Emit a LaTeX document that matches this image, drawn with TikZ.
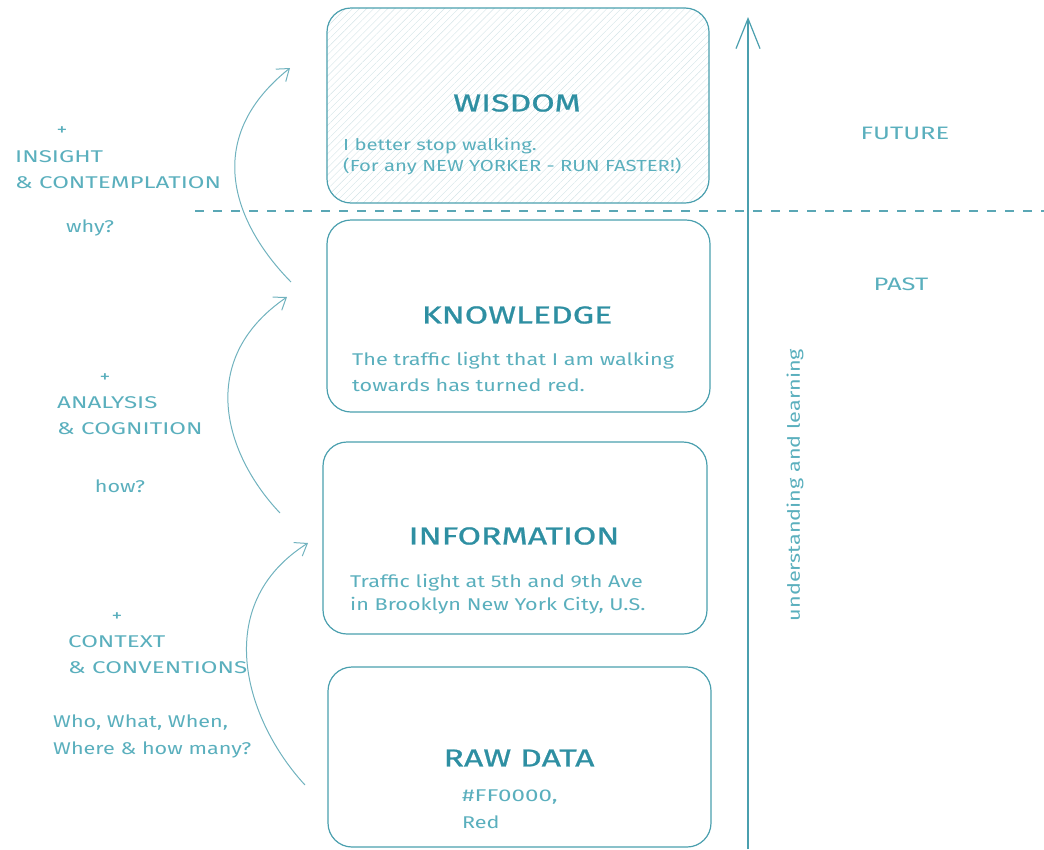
\documentclass[tikz,border=0pt]{standalone}
\usepackage{fontspec}
\setmainfont{Fira Sans}
\newfontfamily\handl[FakeStretch=1.27]{Fira Sans}
\newfontfamily\handc[FakeStretch=1.42]{Fira Sans}
\newfontfamily\handt[FakeStretch=1.38,FakeBold=1]{Fira Sans}
\usetikzlibrary{arrows.meta,patterns.meta}
\definecolor{boxc}{HTML}{4A9FAE}
\definecolor{titlec}{HTML}{2E8FA2}
\definecolor{txtc}{HTML}{5AAFBD}
\definecolor{linec}{HTML}{70B2BE}
\definecolor{dashc}{HTML}{5AA7B5}
\definecolor{hatchc}{HTML}{D3E3E7}
\begin{document}
\begin{tikzpicture}[x=1pt,y=-1pt,
 box/.style={draw=boxc,line width=1.2pt,rounded corners=24pt,inner sep=0pt},
 title/.style={font=\handt\fontsize{24.5}{28}\selectfont,text=titlec,inner sep=0pt},
 body/.style={font=\handl\fontsize{17}{20}\selectfont,text=txtc,anchor=west,inner sep=0pt},
 bodys/.style={font=\handl\fontsize{16}{19}\selectfont,text=txtc,anchor=west,inner sep=0pt},
 bodyc/.style={font=\handc\fontsize{17}{20}\selectfont,text=txtc,anchor=west,inner sep=0pt},
 side/.style={font=\handc\fontsize{17}{20}\selectfont,text=txtc,anchor=west,inner sep=0pt},
 sidel/.style={font=\handl\fontsize{17}{20}\selectfont,text=txtc,anchor=west,inner sep=0pt},
 sidec/.style={font=\handl\fontsize{17}{20}\selectfont,text=txtc,inner sep=0pt},
 era/.style={font=\handc\fontsize{18}{20}\selectfont,text=txtc,inner sep=0pt},
 flow/.style={draw=linec,line width=1pt,-{Straight Barb[length=11pt,width=16pt]}}]
\useasboundingbox (0,0) rectangle (1044,849);
% boxes
\node[box,minimum width=382pt,minimum height=195pt,
  pattern={Lines[angle=45,distance=5pt,line width=0.4pt]},pattern color=hatchc] (wis) at (518,105.5) {};
\node[box,minimum width=383pt,minimum height=192pt] (kno) at (518.5,316) {};
\node[box,minimum width=384pt,minimum height=192pt] (inf) at (515,538) {};
\node[box,minimum width=383pt,minimum height=180pt] (raw) at (519.5,757) {};
% titles
\node[title] (wist) at (517,103) {WISDOM};
\node[title] (knot) at (517,315) {KNOWLEDGE};
\node[title] (inft) at (514,536) {INFORMATION};
\node[title] (rawt) at (519,758) {RAW DATA};
% bodies
\node[bodys] (wis1) at (343,146) {I better stop walking.};
\node[bodys] (wis2) at (343,166) {(For any NEW YORKER - RUN FASTER!)};
\node[body] (kno1) at (352,361) {The traffic light that I am walking};
\node[body] (kno2) at (352,385) {towards has turned red.};
\node[body] (inf1) at (350,583) {Traffic light at 5th and 9th Ave};
\node[body] (inf2) at (350,606) {in Brooklyn New York City, U.S.};
\node[bodyc] (raw1) at (462,797) {\#FF0000,};
\node[body] (raw2) at (462,822) {Red};
% dashed separator
\coordinate (dl) at (195,211);
\coordinate (dr) at (1044,211);
\draw[draw=dashc,line width=1.3pt,dash pattern=on 9pt off 9pt] (dl) -- (dr);
% vertical arrow
\coordinate (vbot) at (748,849);
\coordinate (vtop) at (748,17);
\draw[draw=boxc,line width=1.2pt,-{Straight Barb[length=30pt,width=24pt]}] (vbot) -- (vtop);
\node[sidec,rotate=90] (ul) at (795,485) {understanding and learning};
\node[era] (fut) at (905,133) {FUTURE};
\node[era] (past) at (901,284) {PAST};
% left labels
\node[sidec] (p3) at (62,131) {+};
\node[side] (ins) at (15,157) {INSIGHT};
\node[side] (con) at (15,183) {\& CONTEMPLATION};
\node[sidec] (why) at (90,228) {why?};
\node[sidec] (p2) at (105,378) {+};
\node[side] (ana) at (57,403) {ANALYSIS};
\node[side] (cog) at (57,429) {\& COGNITION};
\node[sidec] (how) at (120,486) {how?};
\node[sidec] (p1) at (117,617) {+};
\node[side] (ctx) at (68,642) {CONTEXT};
\node[side] (cnv) at (68,668) {\& CONVENTIONS};
\node[sidel] (who) at (53,723) {Who, What, When,};
\node[sidel] (whr) at (53,750) {Where \& how many?};
% curved arrows
\coordinate (c1s) at (305,785);
\coordinate (c1e) at (308,543);
\coordinate (c2s) at (280,513);
\coordinate (c2e) at (287,297);
\coordinate (c3s) at (291,282);
\coordinate (c3e) at (290,68);
\draw[flow] (c1s) .. controls (245,720) and (210,605) .. (c1e);
\draw[flow] (c2s) .. controls (225,455) and (195,360) .. (c2e);
\draw[flow] (c3s) .. controls (235,225) and (200,140) .. (c3e);
\end{tikzpicture}
\end{document}
